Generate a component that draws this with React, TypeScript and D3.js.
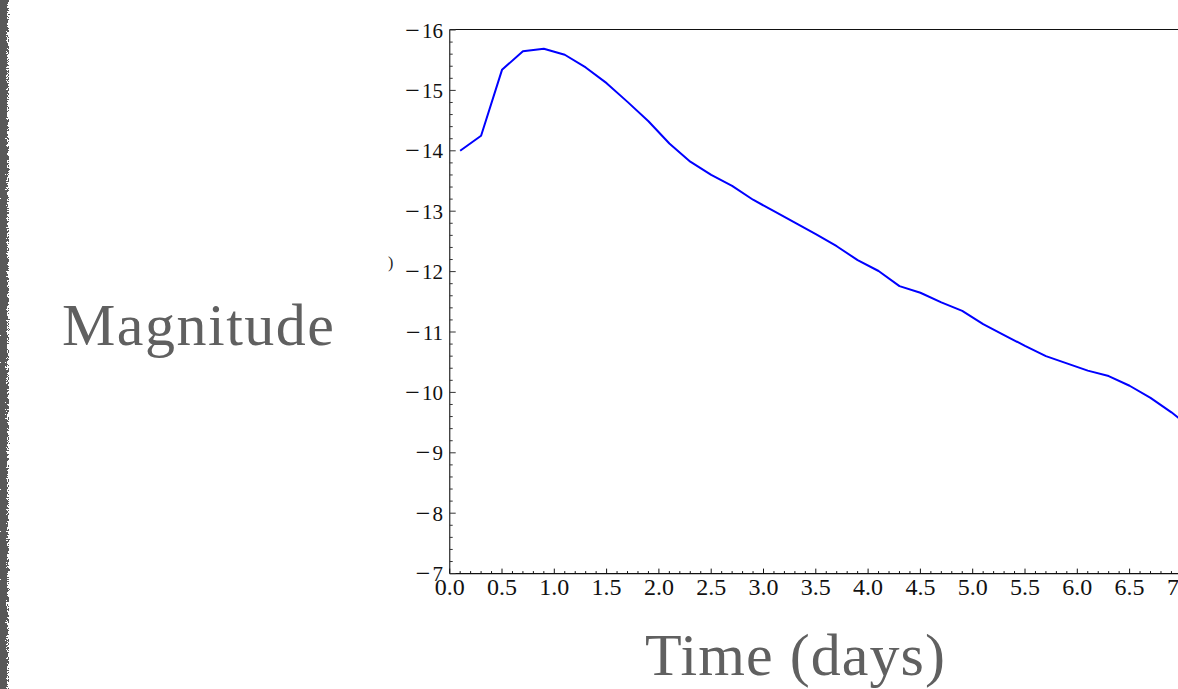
import React from "react";
import * as d3 from "d3";

// Light curve: absolute magnitude sampled every 0.2 days
const times: number[] = [
  0.1, 0.3, 0.5, 0.7, 0.9, 1.1, 1.3, 1.5, 1.7, 1.9, 2.1, 2.3, 2.5, 2.7, 2.9, 3.1, 3.3, 3.5,
  3.7, 3.9, 4.1, 4.3, 4.5, 4.7, 4.9, 5.1, 5.3, 5.5, 5.7, 5.9, 6.1, 6.3, 6.5, 6.7, 6.9, 7.1,
];
const magnitudes: number[] = [
  -14.0, -14.25, -15.34, -15.65, -15.69, -15.59, -15.38, -15.12, -14.81, -14.49, -14.12,
  -13.82, -13.6, -13.42, -13.19, -13.0, -12.81, -12.62, -12.42, -12.19, -12.01, -11.76,
  -11.65, -11.49, -11.35, -11.13, -10.95, -10.77, -10.6, -10.48, -10.36, -10.27, -10.11,
  -9.91, -9.67, -9.4,
];

const xTickValues: number[] = [0, 0.5, 1, 1.5, 2, 2.5, 3, 3.5, 4, 4.5, 5, 5.5, 6, 6.5, 7];
const yTickValues: number[] = [-16, -15, -14, -13, -12, -11, -10, -9, -8, -7];

const xTitle = "Time (days)";
const yTitle = "Magnitude";

const W = 1178;
const H = 689;

export default function App() {
  const x = d3.scaleLinear().domain([0, 7]).range([449.7, 1181.9]);
  const y = d3.scaleLinear().domain([-16, -7]).range([30, 573.6]);

  const pts: [number, number][] = times.map((t, i) => [t, magnitudes[i]]);
  const line = d3
    .line<[number, number]>()
    .x((d) => x(d[0]))
    .y((d) => y(d[1]));

  const xMinor = d3.range(0, 71).map((i) => i / 10).filter((v) => Math.abs(v * 2 - Math.round(v * 2)) > 1e-6);
  const yMinor = d3.range(0, 46).map((i) => -16 + i / 5).filter((v) => Math.abs(v - Math.round(v)) > 1e-6);

  const axisX = x(0);
  const axisY = y(-7);
  const serif = "'Liberation Serif', 'Times New Roman', serif";

  return (
    <svg
      width={W}
      height={H}
      viewBox={`0 0 ${W} ${H}`}
      style={{ position: "fixed", left: 0, top: 0, background: "#fff" }}
    >
      <defs>
        <filter id="rough" x="-1" y="0" width="4" height="1" filterUnits="objectBoundingBox" colorInterpolationFilters="sRGB">
          <feTurbulence type="turbulence" baseFrequency="0.45" numOctaves="2" seed="5" result="noise" />
          <feDisplacementMap in="SourceGraphic" in2="noise" scale="7" xChannelSelector="R" yChannelSelector="G" />
        </filter>
      </defs>

      {/* scanned page edge on the left */}
      <rect x={-3} y={-4} width={9} height={H + 8} fill="#595959" filter="url(#rough)" />

      {/* frame */}
      <line x1={axisX} x2={W} y1={29.5} y2={29.5} stroke="#111" strokeWidth={1.2} />
      <line x1={axisX} x2={axisX} y1={29.5} y2={axisY} stroke="#444" strokeWidth={1.4} />
      <line x1={axisX} x2={W} y1={axisY} y2={axisY} stroke="#111" strokeWidth={1.2} />

      {/* y ticks */}
      {yTickValues.map((v) => (
        <line key={`ym${v}`} x1={axisX} x2={axisX + 6} y1={y(v)} y2={y(v)} stroke="#333" strokeWidth={1} />
      ))}
      {yMinor.map((v) => (
        <line key={`yn${v}`} x1={axisX} x2={axisX + 3} y1={y(v)} y2={y(v)} stroke="#333" strokeWidth={1} />
      ))}
      {yTickValues.map((v) => (
        <text
          key={`yl${v}`}
          x={443}
          y={y(v) + 7.5}
          textAnchor="end"
          fontFamily={serif}
          fontSize={21}
          fill="#111"
        >
          <tspan fontSize={26} dy={1}>{"\u2212"}</tspan>
          <tspan dx={2} dy={-1}>{Math.abs(v)}</tspan>
        </text>
      ))}

      {/* x ticks */}
      {xTickValues.map((v) => (
        <line key={`xm${v}`} x1={x(v)} x2={x(v)} y1={axisY} y2={axisY - 5} stroke="#111" strokeWidth={1} />
      ))}
      {xMinor.map((v) => (
        <line key={`xn${v}`} x1={x(v)} x2={x(v)} y1={axisY} y2={axisY - 2.5} stroke="#111" strokeWidth={1} />
      ))}
      {xTickValues.map((v) => (
        <text
          key={`xl${v}`}
          x={x(v)}
          y={595}
          textAnchor="middle"
          fontFamily={serif}
          fontSize={24}
          fill="#111"
        >
          {v.toFixed(1)}
        </text>
      ))}

      {/* light curve */}
      <path
        d={line(pts) ?? ""}
        fill="none"
        stroke="#0000ff"
        strokeWidth={2}
        strokeLinejoin="round"
      />

      {/* leftover fragment of the inner axis label */}
      <text x={388} y={268} fontFamily={serif} fontSize={16} fill="#222">
        )
      </text>

      {/* axis titles */}
      <text
        x={198}
        y={345}
        textAnchor="middle"
        fontFamily={serif}
        fontSize={60}
        fill="#606060"
        textLength={272}
        lengthAdjust="spacing"
      >
        {yTitle}
      </text>
      <text
        x={795}
        y={675}
        textAnchor="middle"
        fontFamily={serif}
        fontSize={60}
        fill="#606060"
        textLength={300}
        lengthAdjust="spacing"
      >
        {xTitle}
      </text>
    </svg>
  );
}
